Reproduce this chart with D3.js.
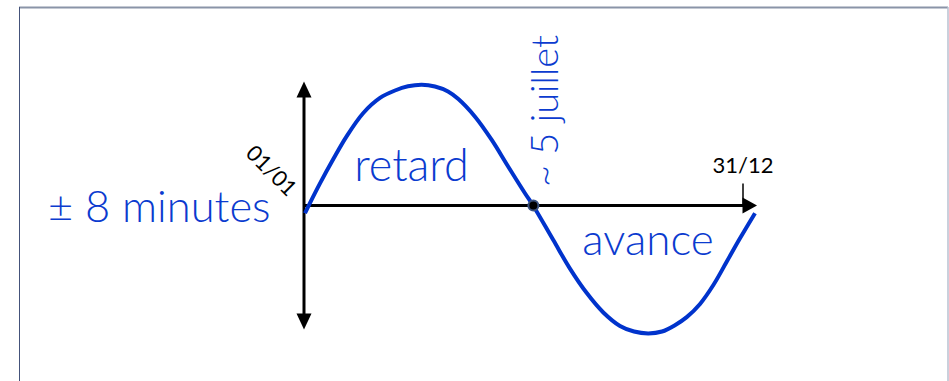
<!DOCTYPE html>
<meta charset="UTF-8">
<script src="https://d3js.org/d3.v7.min.js"></script>
<style>
  body { margin: 0; background: #fff; }
  svg { display: block; font-family: "Lato", "Open Sans", sans-serif; }
</style>
<div id="chart"></div>
<script>

  // Data: day of year vs. offset in minutes
  const days    = [0, 4, 12.5, 23.6, 34.8, 48.6, 62.5, 75, 85.8, 97.3, 108.3, 119.2, 127.8, 141.7, 155.6, 169.4, 183.3, 190.3,
                   206.9, 220.8, 234.8, 248.6, 262.5, 274.2, 286.1, 297.5, 308.3, 318.1, 329.2, 340.3, 351.4, 362.5, 375];
  const minutes = [-0.5, 0.14, 1.43, 3.0, 4.48, 5.97, 6.94, 7.42, 7.69, 7.79, 7.68, 7.36, 6.87, 5.73, 4.23, 2.5, 0.79, -0.03,
                   -2.23, -4.07, -5.65, -6.9, -7.77, -8.13, -8.25, -8.13, -7.72, -7.2, -6.35, -5.13, -3.63, -2.12, -0.5];
  const crossingDay = 190.3;
  const endDay = 365;
  const startLabel = "01/01";
  const endLabel = "31/12";

  const blue = "#0b3bcf";
  const W = 949, H = 381;

  const svg = d3.select("#chart").append("svg")
    .attr("width", W)
    .attr("height", H);

  // frame
  svg.append("line").attr("x1", 19).attr("x2", 948).attr("y1", 7.5).attr("y2", 7.5)
    .attr("stroke", "#8a94a8").attr("stroke-width", 2);
  svg.append("line").attr("x1", 19.5).attr("x2", 19.5).attr("y1", 7).attr("y2", H)
    .attr("stroke", "#44527a").attr("stroke-width", 1);
  svg.append("line").attr("x1", 948).attr("x2", 948).attr("y1", 7).attr("y2", H)
    .attr("stroke", "#b8c0d0").attr("stroke-width", 1.5);

  const x = d3.scaleLinear().domain([0, 375]).range([305, 755]);
  const y = d3.scaleLinear().domain([-8, 8]).range([329.5, 81.5]);

  const data = days.map((d, i) => ({day: d, min: minutes[i]}));

  // axes
  const y0 = y(0);
  const ax = svg.append("g").attr("stroke", "#000").attr("fill", "#000");

  ax.append("line")
    .attr("x1", x(0) - 2).attr("x2", 750)
    .attr("y1", y0).attr("y2", y0)
    .attr("stroke-width", 3);
  ax.append("path")
    .attr("stroke", "none")
    .attr("d", `M757,${y0} L742.5,${y0 - 8} L742.5,${y0 + 8} Z`);

  const yx = x(0) - 1;
  ax.append("line")
    .attr("x1", yx).attr("x2", yx)
    .attr("y1", y(8) + 10).attr("y2", y(-8) - 10)
    .attr("stroke-width", 3);
  ax.append("path")
    .attr("stroke", "none")
    .attr("d", `M${yx},${y(8)} L${yx - 7.5},${y(8) + 16} L${yx + 7.5},${y(8) + 16} Z`);
  ax.append("path")
    .attr("stroke", "none")
    .attr("d", `M${yx},${y(-8)} L${yx - 7.5},${y(-8) - 16} L${yx + 7.5},${y(-8) - 16} Z`);

  // 31/12 tick
  ax.append("line")
    .attr("x1", x(endDay)).attr("x2", x(endDay))
    .attr("y1", y0 - 22).attr("y2", y0)
    .attr("stroke-width", 1.5);

  svg.append("text")
    .attr("x", x(endDay))
    .attr("y", 173)
    .attr("text-anchor", "middle")
    .style("font-size", "22px")
    .attr("fill", "#000")
    .text(endLabel);

  svg.append("text")
    .attr("transform", "translate(266,176) rotate(45)")
    .attr("text-anchor", "middle")
    .style("font-size", "22px")
    .attr("fill", "#000")
    .text(startLabel);

  // curve
  const line = d3.line()
    .x(d => x(d.day))
    .y(d => y(d.min))
    .curve(d3.curveCatmullRom);

  svg.append("path")
    .datum(data)
    .attr("fill", "none")
    .attr("stroke", "#0033cc")
    .attr("stroke-width", 4)
    .attr("d", line);

  // crossing dot
  svg.append("circle")
    .attr("cx", x(crossingDay))
    .attr("cy", y0)
    .attr("r", 5)
    .attr("fill", "#000")
    .attr("stroke", "#3b5280")
    .attr("stroke-width", 2);

  // labels
  const lab = svg.append("g").attr("fill", blue).style("font-weight", 300);

  lab.append("text")
    .attr("x", 411.5).attr("y", 180.5)
    .attr("text-anchor", "middle")
    .style("font-size", "45px")
    .text("retard");

  lab.append("text")
    .attr("x", 648).attr("y", 255)
    .attr("text-anchor", "middle")
    .style("font-size", "44px")
    .text("avance");

  lab.append("text")
    .attr("x", 48).attr("y", 221.5)
    .style("font-size", "43.5px")
    .text("± 8 minutes");

  lab.append("text")
    .attr("transform", "translate(558,187) rotate(-90)")
    .style("font-size", "38px")
    .text("~ 5 juillet");

</script>
